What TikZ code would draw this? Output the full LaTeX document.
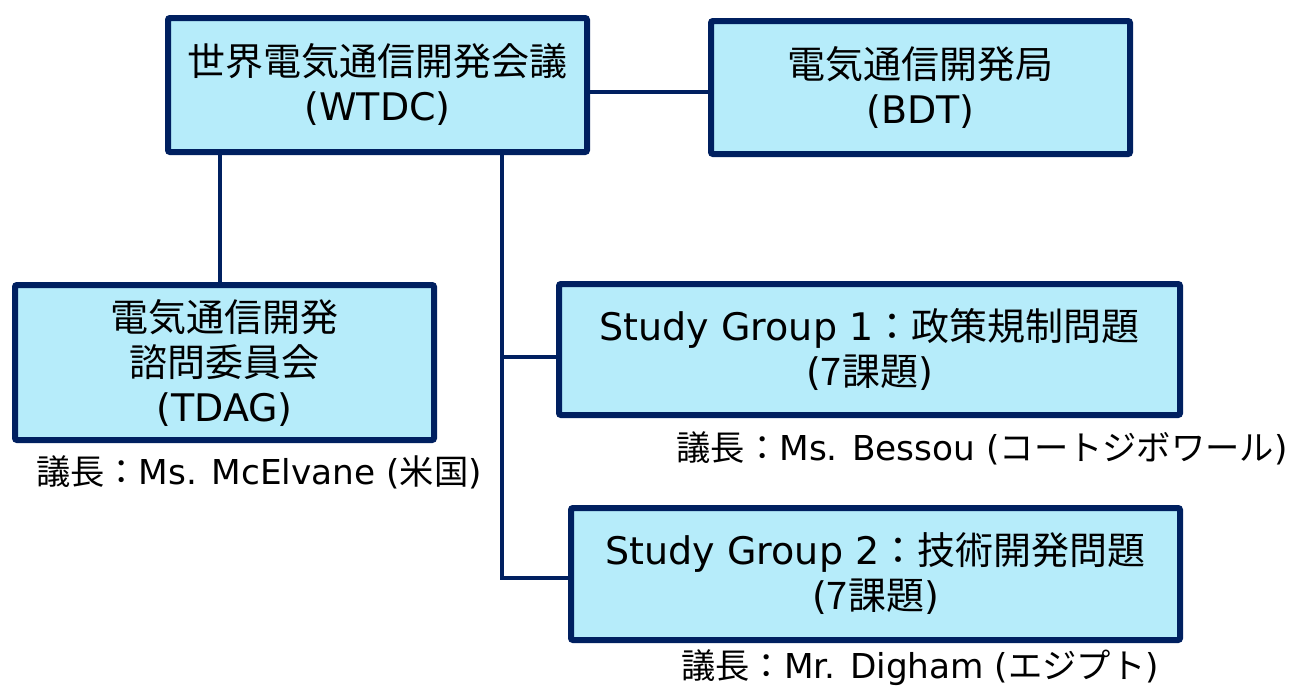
\documentclass[tikz,border=0pt]{standalone}
\usepackage{fontspec}
\setmainfont{DejaVu Sans}
\newfontfamily\jp{Noto Sans CJK JP}
\definecolor{navy}{RGB}{0,32,96}
\definecolor{sky}{RGB}{182,236,250}
\tikzset{
  box/.style={draw=navy, fill=sky, line width=6pt, rounded corners=2pt,
    align=center, inner sep=0pt, font=\fontsize{38}{45}\selectfont},
  chair/.style={inner sep=0pt, font=\fontsize{34.3}{40}\selectfont},
  link/.style={draw=navy, line width=4pt}
}
\begin{document}
\begin{tikzpicture}[x=1pt,y=-1pt]
  \useasboundingbox (0,0) rectangle (1292,686);
  % Boites
  \node[box, minimum width=419pt, minimum height=134pt] (wtdc) at (377.5,85)
      {{\jp 世界電気通信開発会議}\\(WTDC)};
  \node[box, minimum width=419pt, minimum height=133pt] (bdt) at (920.5,87.5)
      {{\jp 電気通信開発局}\\(BDT)};
  \node[box, minimum width=419pt, minimum height=155pt] (tdag) at (224.5,362.5)
      {{\jp 電気通信開発}\\{\jp 諮問委員会}\\(TDAG)};
  \node[box, minimum width=621pt, minimum height=131pt] (sg1) at (869.5,349.5)
      {Study Group 1{\jp ：政策規制問題}\\({\jp 7課題})};
  \node[box, minimum width=609pt, minimum height=132pt] (sg2) at (875.5,574)
      {Study Group 2{\jp ：技術開発問題}\\({\jp 7課題})};
  % Presidents
  \node[chair] (ch1) at (259,472) {{\jp 議長：}Ms. McElvane ({\jp 米国})};
  \node[chair] (ch2) at (982,448) {{\jp 議長：}Ms. Bessou ({\jp コートジボワール})};
  \node[chair] (ch3) at (920,668) {{\jp 議長：}Mr. Digham ({\jp エジプト})};
  % Liaisons
  \coordinate (trunk) at (502,155);
  \draw[link] ([yshift=-7pt]wtdc.east) -- ([yshift=-7pt]wtdc.east -| bdt.west);
  \draw[link] ([xshift=-4.5pt]wtdc.south -| tdag.north)
      -- ([xshift=-4.5pt]tdag.north);
  \draw[link] (wtdc.south -| trunk) |- ([yshift=-4pt]sg2.west);
  \draw[link] ([yshift=-7.5pt]sg1.west -| trunk) -- ([yshift=-7.5pt]sg1.west);
\end{tikzpicture}
\end{document}
